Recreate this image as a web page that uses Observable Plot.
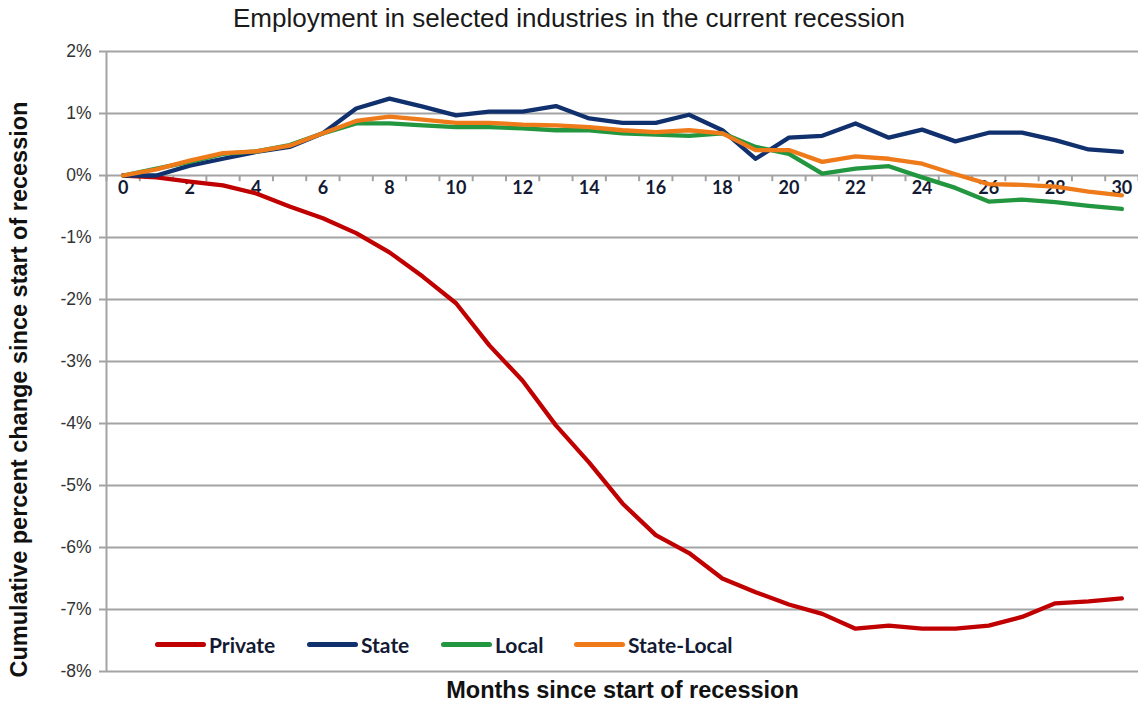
<!DOCTYPE html>
<html>
<head>
<meta charset="utf-8">
<script src="https://cdn.jsdelivr.net/npm/d3@7"></script>
<script src="https://cdn.jsdelivr.net/npm/@observablehq/plot@0.6"></script>
<style>
  html, body { margin: 0; padding: 0; background: #fff; }
  #wrap { position: relative; width: 1138px; height: 702px; overflow: hidden; font-family: "Liberation Sans", Arial, sans-serif; }
  #title { position: absolute; left: 0; top: 0; width: 1138px; height: 36px; line-height: 36px; text-align: center; font-size: 26px; color: #1a1a1a; white-space: nowrap; }
  #chart { position: absolute; left: 0; top: 40px; }
  #legend { position: absolute; top: 631px; left: 0; height: 26px; width: 1138px; }
  .li { position: absolute; top: 0; height: 26px; display: flex; align-items: center; white-space: nowrap; font-family: Lato, "Liberation Sans", sans-serif; font-weight: bold; font-size: 21px; color: #141a33; }
  .li span.sw { display: inline-block; width: 51px; height: 5px; border-radius: 3px; margin-right: 3px; }
</style>
</head>
<body>
<div id="wrap">
  <div id="title">Employment in selected industries in the current recession</div>
  <div id="chart"></div>
  <div id="legend"></div>
</div>
<script>
const months = d3.range(0, 31);
const privateVals = [0, -0.03, -0.1, -0.16, -0.29, -0.5, -0.69, -0.93, -1.24, -1.63, -2.06, -2.74, -3.31, -4.03, -4.63, -5.29, -5.8, -6.09, -6.5, -6.72, -6.92, -7.07, -7.31, -7.26, -7.31, -7.31, -7.26, -7.12, -6.9, -6.87, -6.82];
const stateVals = [0, 0.0, 0.16, 0.27, 0.38, 0.46, 0.68, 1.08, 1.24, 1.11, 0.97, 1.03, 1.03, 1.12, 0.92, 0.85, 0.85, 0.98, 0.73, 0.27, 0.61, 0.64, 0.84, 0.61, 0.74, 0.55, 0.69, 0.69, 0.57, 0.42, 0.38];
const localVals = [0, 0.11, 0.22, 0.35, 0.39, 0.49, 0.68, 0.84, 0.84, 0.81, 0.78, 0.78, 0.76, 0.73, 0.73, 0.68, 0.66, 0.64, 0.68, 0.46, 0.35, 0.03, 0.11, 0.15, -0.03, -0.2, -0.42, -0.39, -0.43, -0.49, -0.54];
const stateLocalVals = [0, 0.1, 0.24, 0.36, 0.39, 0.48, 0.68, 0.88, 0.95, 0.9, 0.85, 0.85, 0.82, 0.81, 0.78, 0.73, 0.7, 0.73, 0.68, 0.41, 0.41, 0.22, 0.31, 0.27, 0.19, 0.02, -0.14, -0.15, -0.18, -0.26, -0.32];

const seriesNames = ["Private", "State", "Local", "State-Local"];
const seriesColors = ["#c00000", "#11306e", "#239640", "#ee7a1a"];
const seriesValues = [privateVals, stateVals, localVals, stateLocalVals];

const yTicks = d3.range(-8, 3);
const xLabelMonths = d3.range(0, 31, 2);
const xBoundaries = d3.range(-0.5, 31, 1);

const data = [];
seriesNames.forEach((name, i) => {
  months.forEach((m, j) => data.push({series: name, month: m, value: seriesValues[i][j]}));
});

const gridColor = "#a3a3a3";

const chart = Plot.plot({
  width: 1138,
  height: 662,
  marginLeft: 106,
  marginRight: 0,
  marginTop: 11,
  marginBottom: 31,
  x: {type: "linear", domain: [-0.5, 30.5], axis: null},
  y: {domain: [-8, 2], axis: null},
  color: {domain: seriesNames, range: seriesColors},
  style: {fontFamily: "Liberation Sans, Arial, sans-serif", background: "white", overflow: "visible"},
  marks: [
    Plot.ruleY(yTicks, {stroke: gridColor, strokeWidth: 2}),
    Plot.ruleX([-0.5], {y1: -8, y2: 2, stroke: gridColor, strokeWidth: 2}),
    Plot.axisY(yTicks, {label: null, tickSize: 7, tickPadding: 8, tickFormat: d => d + "%", fontSize: 17.5, stroke: gridColor, strokeWidth: 2, fill: "#333"}),
    Plot.ruleX(xBoundaries, {y1: 0, y2: -0.1, stroke: gridColor, strokeWidth: 2}),
    Plot.text(xLabelMonths, {x: d => d, y: 0, dy: 13, text: d => String(d), fontWeight: "bold", fontSize: 18, fill: "#141a33", lineAnchor: "middle", fontFamily: "Lato, Liberation Sans, sans-serif"}),
    Plot.lineY(data, {x: "month", y: "value", stroke: "series", z: "series", strokeWidth: 4.3, strokeLinejoin: "round", strokeLinecap: "round"}),
    Plot.text(["Cumulative percent change since start of recession"], {frameAnchor: "left", textAnchor: "middle", lineAnchor: "middle", rotate: -90, dx: -87, dy: 28, fontWeight: "bold", fontSize: 23.5, fill: "#111"}),
    Plot.text(["Months since start of recession"], {frameAnchor: "bottom", lineAnchor: "middle", dy: 19, fontWeight: "bold", fontSize: 23.5, fill: "#111"})
  ]
});
document.getElementById("chart").appendChild(chart);

const legendLeft = [155, 307, 441, 574];
const legend = document.getElementById("legend");
seriesNames.forEach((name, i) => {
  const el = document.createElement("div");
  el.className = "li";
  el.style.left = legendLeft[i] + "px";
  el.innerHTML = `<span class="sw" style="background:${seriesColors[i]}"></span>${name}`;
  legend.appendChild(el);
});
</script>
</body>
</html>
